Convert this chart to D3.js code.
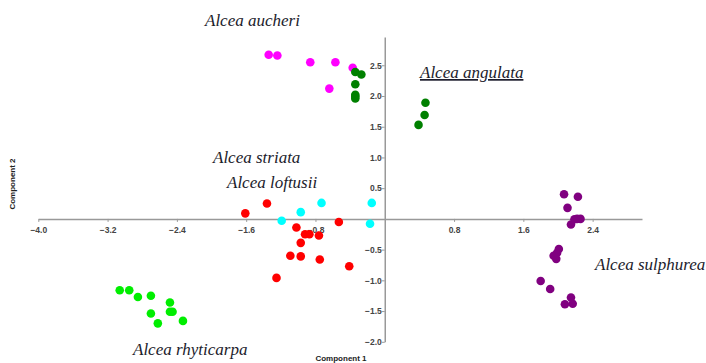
<!DOCTYPE html>
<html>
<head>
<meta charset="utf-8">
<script src="https://cdn.jsdelivr.net/npm/d3@7"></script>
<style>
body{margin:0;background:#fff;}
</style>
</head>
<body>
<script>
// tick values
var xTicks=[-4.0,-3.2,-2.4,-1.6,-0.8,0.8,1.6,2.4];
var yTicks=[-2.0,-1.5,-1.0,-0.5,0.5,1.0,1.5,2.0,2.5];

// species points [x,y]
var aucheri=[[-1.34,2.67],[-1.24,2.66],[-0.86,2.55],[-0.57,2.55],[-0.37,2.46],[-0.64,2.12]];
var angulata=[[-0.34,2.39],[-0.27,2.35],[-0.34,2.19],[-0.34,2.02],[-0.34,1.99],[-0.34,1.96],[0.47,1.89],[0.46,1.69],[0.39,1.53]];
var loftusii=[[-1.19,-0.03],[-0.97,0.11],[-0.73,0.26],[-0.15,0.26],[-0.17,-0.08]];
var striata=[[-1.61,0.09],[-1.36,0.25],[-1.02,-0.14],[-0.92,-0.25],[-0.87,-0.25],[-0.76,-0.27],[-0.97,-0.39],[-0.53,-0.05],[-1.09,-0.60],[-0.97,-0.61],[-0.75,-0.66],[-0.41,-0.77],[-1.25,-0.96]];
var rhyticarpa=[[-3.06,-1.16],[-2.95,-1.16],[-2.85,-1.27],[-2.70,-1.25],[-2.48,-1.36],[-2.70,-1.54],[-2.48,-1.51],[-2.45,-1.51],[-2.62,-1.70],[-2.33,-1.66]];
var sulphurea=[[2.07,0.40],[2.23,0.36],[2.11,0.18],[2.19,-0.005],[2.22,0.00],[2.26,0.00],[2.15,-0.09],[2.01,-0.49],[1.99,-0.55],[1.95,-0.60],[1.98,-0.65],[1.80,-1.01],[1.91,-1.14],[2.15,-1.28],[2.17,-1.38],[2.08,-1.39]];

var groups=[
	{name:"Alcea aucheri",pts:aucheri,color:"#ff00ff",lx:205,ly:26,u:false},
	{name:"Alcea angulata",pts:angulata,color:"#008000",lx:420,ly:78,u:true},
	{name:"Alcea striata",pts:striata,color:"#ff0000",lx:213,ly:163,u:false},
	{name:"Alcea loftusii",pts:loftusii,color:"#00ffff",lx:227,ly:188,u:false},
	{name:"Alcea sulphurea",pts:sulphurea,color:"#800080",lx:595,ly:270,u:false},
	{name:"Alcea rhyticarpa",pts:rhyticarpa,color:"#00ee00",lx:133,ly:355,u:false}
];

var svg=d3.select("body").append("svg")
.attr("width",706)
.attr("height",363);

var x=d3.scaleLinear().domain([-4.0,2.97]).range([38.3,642]);
var y=d3.scaleLinear().domain([-2.0,2.96]).range([341.8,37]);

// x axis
var gx=svg.append("g").attr("transform","translate(0,"+y(0)+")")
.call(d3.axisBottom(x).tickValues(xTicks).tickSize(3).tickSizeOuter(0).tickFormat(d3.format(".1f")));
// y axis
var gy=svg.append("g").attr("transform","translate("+x(0)+",0)")
.call(d3.axisLeft(y).tickValues(yTicks).tickSize(3).tickSizeOuter(0).tickFormat(d3.format(".1f")));

[gx,gy].forEach(function(g){
	g.select(".domain").attr("stroke","#999").attr("stroke-width",1.5);
	g.selectAll(".tick line").attr("stroke","#999");
	g.selectAll(".tick text").attr("fill","#444").attr("font-family","Liberation Sans, Arial, sans-serif")
	.attr("font-size",8.5).attr("font-weight","bold");
});
gx.selectAll(".tick text").attr("dy","0.9em");
gy.selectAll(".tick text").attr("x",-3);

// axis titles
svg.append("text").attr("x",341).attr("y",361).attr("text-anchor","middle")
.attr("font-family","Liberation Sans, Arial, sans-serif").attr("font-size",8).attr("font-weight","bold")
.attr("fill","#222").text("Component 1");
svg.append("text").attr("transform","translate(15,184) rotate(-90)").attr("text-anchor","middle")
.attr("font-family","Liberation Sans, Arial, sans-serif").attr("font-size",8).attr("font-weight","bold")
.attr("fill","#222").text("Component 2");

// points
groups.forEach(function(g){
	svg.append("g").selectAll("circle").data(g.pts).enter().append("circle")
	.attr("cx",function(d){return x(d[0]);})
	.attr("cy",function(d){return y(d[1]);})
	.attr("r",4.3)
	.attr("fill",g.color);
});

// species labels
svg.selectAll("text.sp").data(groups).enter().append("text")
.attr("class","sp")
.attr("x",function(d){return d.lx;})
.attr("y",function(d){return d.ly;})
.attr("font-family","Liberation Serif, Times New Roman, serif")
.attr("font-style","italic")
.attr("font-size",17)
.attr("fill","#1c1c2c")
.attr("text-decoration",function(d){return d.u?"underline":null;})
.text(function(d){return d.name;});
</script>
</body>
</html>
